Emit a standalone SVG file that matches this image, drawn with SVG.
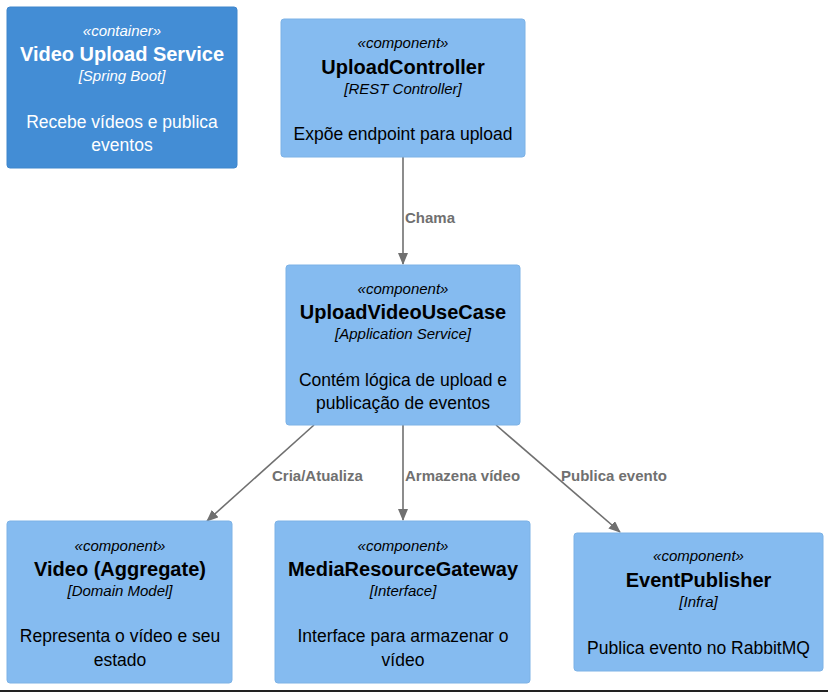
<svg xmlns="http://www.w3.org/2000/svg" width="828" height="692" viewBox="0 0 828 692">
<defs>
<style>
.cont{fill:#438DD5;stroke:#3F86CC;stroke-width:1}
.comp{fill:#85BBF0;stroke:#7DB2E6;stroke-width:1}
text{font-family:"Liberation Sans",Arial,sans-serif;text-anchor:middle}
.st{font-size:15px;font-style:italic}
.ti{font-size:20px;font-weight:bold}
.de{font-size:17.5px}
.w{fill:#FFFFFF}
.k{fill:#000000}
.edge{stroke:#707070;stroke-width:1.6;fill:none;marker-end:url(#ah)}
.lbl{font-size:15px;font-weight:bold;fill:#707070;text-anchor:start}
</style>
<marker id="ah" markerUnits="userSpaceOnUse" markerWidth="12" markerHeight="10" refX="11" refY="5" orient="auto">
<path d="M0,0 L12,5 L0,10 z" fill="#707070"/>
</marker>
</defs>
<rect x="0" y="0" width="828" height="692" fill="#FFFFFF"/>
<g id="connectors">
<line class="edge" x1="403" y1="157" x2="403" y2="264"/>
<line class="edge" x1="314" y1="425" x2="207" y2="521"/>
<line class="edge" x1="403" y1="425" x2="403" y2="520"/>
<line class="edge" x1="496" y1="425" x2="620" y2="532"/>
<text class="lbl" x="405" y="223">Chama</text>
<text class="lbl" x="272" y="481">Cria/Atualiza</text>
<text class="lbl" x="405" y="481">Armazena vídeo</text>
<text class="lbl" x="561" y="481">Publica evento</text>
</g>
<g id="video-upload-service">
<rect class="cont" x="7" y="7" width="230" height="161" rx="3"/>
<text class="st w" x="122" y="36">«container»</text>
<text class="ti w" x="122" y="61">Video Upload Service</text>
<text class="st w" x="122" y="81">[Spring Boot]</text>
<text class="de w" x="122" y="128">Recebe vídeos e publica</text>
<text class="de w" x="122" y="151">eventos</text>
</g>
<g id="upload-controller">
<rect class="comp" x="281" y="19" width="244" height="138" rx="3"/>
<text class="st k" x="403" y="48">«component»</text>
<text class="ti k" x="403" y="74">UploadController</text>
<text class="st k" x="403" y="94">[REST Controller]</text>
<text class="de k" x="403" y="140">Expõe endpoint para upload</text>
</g>
<g id="upload-video-use-case">
<rect class="comp" x="286" y="265" width="234" height="160" rx="3"/>
<text class="st k" x="403" y="294">«component»</text>
<text class="ti k" x="403" y="319">UploadVideoUseCase</text>
<text class="st k" x="403" y="339">[Application Service]</text>
<text class="de k" x="403" y="386">Contém lógica de upload e</text>
<text class="de k" x="403" y="409">publicação de eventos</text>
</g>
<g id="video-aggregate">
<rect class="comp" x="7" y="521" width="225" height="162" rx="3"/>
<text class="st k" x="120" y="551">«component»</text>
<text class="ti k" x="120" y="576">Video (Aggregate)</text>
<text class="st k" x="120" y="596">[Domain Model]</text>
<text class="de k" x="120" y="642">Representa o vídeo e seu</text>
<text class="de k" x="120" y="666">estado</text>
</g>
<g id="media-resource-gateway">
<rect class="comp" x="275" y="521" width="255" height="162" rx="3"/>
<text class="st k" x="403" y="551">«component»</text>
<text class="ti k" x="403" y="576">MediaResourceGateway</text>
<text class="st k" x="403" y="596">[Interface]</text>
<text class="de k" x="403" y="642">Interface para armazenar o</text>
<text class="de k" x="403" y="666">vídeo</text>
</g>
<g id="event-publisher">
<rect class="comp" x="574" y="533" width="249" height="138" rx="3"/>
<text class="st k" x="698.5" y="561">«component»</text>
<text class="ti k" x="698.5" y="587">EventPublisher</text>
<text class="st k" x="698.5" y="607">[Infra]</text>
<text class="de k" x="698.5" y="654">Publica evento no RabbitMQ</text>
</g>
<rect x="0" y="690" width="828" height="2" fill="#222222"/>
</svg>
